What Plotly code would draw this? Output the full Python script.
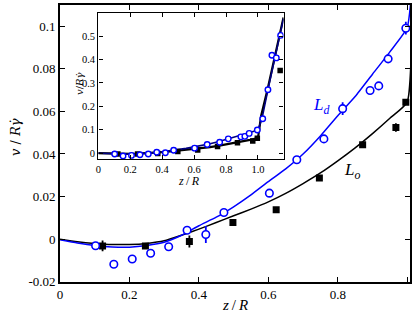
import plotly.graph_objects as go

# ---------------- data ----------------
# L_d (blue circles)
ld_x = [0.1025, 0.155, 0.208, 0.261, 0.313, 0.366, 0.42, 0.472, 0.603, 0.682, 0.76, 0.814, 0.893, 0.918, 0.945, 0.996]
ld_y = [-0.0031, -0.0118, -0.0093, -0.0066, -0.0036, 0.0042, 0.0022, 0.0125, 0.0216, 0.0373, 0.0471, 0.0613, 0.0698, 0.072, 0.0847, 0.0991]
ld_err = [0, 0, 0.0015, 0, 0, 0, 0.004, 0, 0, 0, 0, 0.003, 0, 0, 0, 0.003]
# extra L_d points beyond z/R = 1 (inset only)
ld_x_ext = [1.03, 1.0625, 1.0875, 1.115, 1.142]
ld_y_ext = [0.147, 0.271, 0.418, 0.407, 0.503]

# L_o (black squares)
lo_x = [0.1226, 0.246, 0.3726, 0.498, 0.6226, 0.747, 0.8716, 0.9674, 0.996]
lo_y = [-0.0032, -0.0032, -0.0011, 0.0078, 0.0138, 0.0287, 0.0444, 0.0525, 0.0643]
lo_err = [0.0025, 0, 0.0028, 0, 0, 0, 0, 0.002, 0]
lo_x_ext = [1.139]
lo_y_ext = [0.353]

# model curves
cd_x = [0, 0.05, 0.1, 0.15, 0.2, 0.25, 0.3, 0.35, 0.4, 0.45, 0.5, 0.55, 0.6, 0.65, 0.7, 0.75, 0.8, 0.85, 0.9, 0.95, 1.0, 1.025, 1.0625, 1.16]
cd_y = [-0.0003, -0.0018, -0.003, -0.0037, -0.0038, -0.003, -0.0015, 0.0018, 0.0063, 0.0103, 0.0152, 0.0208, 0.027, 0.033, 0.040, 0.0485, 0.058, 0.067, 0.0775, 0.088, 0.0995, 0.147, 0.271, 0.575]
co_x = [0, 0.05, 0.1, 0.15, 0.2, 0.25, 0.3, 0.35, 0.4, 0.45, 0.5, 0.55, 0.6, 0.65, 0.7, 0.75, 0.8, 0.85, 0.9, 0.95, 1.0, 1.02, 1.0625, 1.16]
co_y = [0, -0.0012, -0.002, -0.0025, -0.0025, -0.002, -0.0008, 0.0018, 0.0047, 0.0078, 0.011, 0.0141, 0.0175, 0.0215, 0.0261, 0.0311, 0.0368, 0.0429, 0.0496, 0.0568, 0.0645, 0.16, 0.28, 0.58]

x_ticks = [0, 0.2, 0.4, 0.6, 0.8, 1.0]
x_ticklabels = ["0", "0.2", "0.4", "0.6", "0.8", "1.0"]
y_ticks = [-0.02, 0, 0.02, 0.04, 0.06, 0.08, 0.1]
y_ticklabels = ["-0.02", "0", "0.02", "0.04", "0.06", "0.08", "0.1"]
yin_ticks = [0, 0.1, 0.2, 0.3, 0.4, 0.5]
yin_ticklabels = ["0", "0.1", "0.2", "0.3", "0.4", "0.5"]

BLUE = "#0000ff"
FONT = "Liberation Serif, Times New Roman, serif"


def with_err(xs, ys, errs):
    ex = [x for x, e in zip(xs, errs) if e > 0]
    ey = [y for y, e in zip(ys, errs) if e > 0]
    ee = [e for e in errs if e > 0]
    return ex, ey, ee


fig = go.Figure()

# ---- main axes ----
fig.add_trace(go.Scatter(x=co_x, y=co_y, mode="lines", line=dict(color="black", width=1.5, shape="spline", smoothing=0.5),
                         xaxis="x", yaxis="y", hoverinfo="skip"))
fig.add_trace(go.Scatter(x=cd_x, y=cd_y, mode="lines", line=dict(color=BLUE, width=1.5, shape="spline", smoothing=0.5),
                         xaxis="x", yaxis="y", hoverinfo="skip"))
ex, ey, ee = with_err(lo_x, lo_y, lo_err)
fig.add_trace(go.Scatter(x=ex, y=ey, mode="markers", marker=dict(size=0.1, color="black", opacity=0),
                         error_y=dict(type="data", array=ee, color="black", thickness=1.8, width=0),
                         xaxis="x", yaxis="y"))
ex, ey, ee = with_err(ld_x, ld_y, ld_err)
fig.add_trace(go.Scatter(x=ex, y=ey, mode="markers", marker=dict(size=0.1, color=BLUE, opacity=0),
                         error_y=dict(type="data", array=ee, color=BLUE, thickness=1.8, width=0),
                         xaxis="x", yaxis="y"))
fig.add_trace(go.Scatter(x=lo_x, y=lo_y, mode="markers",
                         marker=dict(symbol="square", size=7, color="black"),
                         xaxis="x", yaxis="y"))
fig.add_trace(go.Scatter(x=ld_x, y=ld_y, mode="markers",
                         marker=dict(symbol="circle", size=7.5, color="white", line=dict(width=1.6, color=BLUE)),
                         xaxis="x", yaxis="y"))

# ---- inset ----
fig.add_trace(go.Scatter(x=co_x, y=co_y, mode="lines", line=dict(color="black", width=2.2),
                         xaxis="x2", yaxis="y2", hoverinfo="skip"))
fig.add_trace(go.Scatter(x=cd_x, y=cd_y, mode="lines", line=dict(color="#000080", width=1.6),
                         xaxis="x2", yaxis="y2", hoverinfo="skip"))
fig.add_trace(go.Scatter(x=lo_x + lo_x_ext, y=lo_y + lo_y_ext, mode="markers",
                         marker=dict(symbol="square", size=5.5, color="black"),
                         xaxis="x2", yaxis="y2"))
fig.add_trace(go.Scatter(x=ld_x + ld_x_ext, y=ld_y + ld_y_ext, mode="markers",
                         marker=dict(symbol="circle", size=5.5, color="white", line=dict(width=1.4, color=BLUE)),
                         xaxis="x2", yaxis="y2"))

axis_common = dict(showgrid=False, zeroline=False, showline=True, linecolor="black",
                   ticks="inside", mirror="ticks", tickcolor="black", automargin=False)

fig.update_layout(
    width=415, height=314,
    margin=dict(l=0, r=0, t=0, b=0, pad=0),
    paper_bgcolor="white", plot_bgcolor="white",
    showlegend=False,
    font=dict(family=FONT, color="black"),
    xaxis=dict(domain=[60 / 415, 410 / 415], range=[0, 1.008], anchor="y",
               tickvals=x_ticks, ticktext=x_ticklabels, ticklen=5, tickwidth=1.2, linewidth=1.6,
               tickfont=dict(size=13, family=FONT), **axis_common),
    yaxis=dict(domain=[(314 - 281.7) / 314, (314 - 5) / 314], range=[-0.02, 0.11], anchor="x",
               tickvals=y_ticks, ticktext=y_ticklabels, ticklen=5, tickwidth=1.2, linewidth=1.6,
               tickfont=dict(size=13, family=FONT), **axis_common),
    xaxis2=dict(domain=[98.3 / 415, 283.5 / 415], range=[0, 1.16], anchor="y2",
                tickvals=x_ticks, ticktext=x_ticklabels, ticklen=4, tickwidth=1, linewidth=1.4,
                tickfont=dict(size=10.5, family=FONT), **axis_common),
    yaxis2=dict(domain=[(314 - 159.3) / 314, (314 - 12.7) / 314], range=[-0.026, 0.6], anchor="x2",
                tickvals=yin_ticks, ticktext=yin_ticklabels, ticklen=4, tickwidth=1, linewidth=1.4,
                tickfont=dict(size=10.5, family=FONT), **axis_common),
)

fig.add_shape(type="rect", xref="x2 domain", yref="y2 domain", x0=0, x1=1, y0=0, y1=1,
              fillcolor="white", line=dict(width=0), layer="below")

ann = [
    dict(text="<i>z</i>\u2009/\u2009<i>R</i>", x=235 / 415, y=1 - 305 / 314, size=15, angle=0, fam=FONT),
    dict(text="<i>v</i> / <i>R</i><i>\u03b3\u0307</i>", x=15 / 415, y=1 - 137 / 314, size=13, angle=-90, fam="DejaVu Serif"),
    dict(text="<i>z</i>\u2009/\u2009<i>R</i>", x=189 / 415, y=1 - 181 / 314, size=12, angle=0, fam=FONT),
    dict(text="<i>v</i>/<i>R</i><i>\u03b3\u0307</i>", x=80 / 415, y=1 - 84 / 314, size=10, angle=-90, fam="DejaVu Serif"),
]
for a in ann:
    fig.add_annotation(text=a["text"], x=a["x"], y=a["y"], xref="paper", yref="paper",
                       showarrow=False, textangle=a["angle"], xanchor="center", yanchor="middle",
                       font=dict(size=a["size"], color="black", family=a["fam"]))

fig.add_annotation(text="<i>L<sub>d</sub></i>", x=0.753, y=0.0627, xref="x", yref="y", showarrow=False,
                   font=dict(size=17, color=BLUE, family=FONT))
fig.add_annotation(text="<i>L<sub>o</sub></i>", x=0.842, y=0.0318, xref="x", yref="y", showarrow=False,
                   font=dict(size=17, color="black", family=FONT))

fig.write_html("out.html", config={"displayModeBar": False},
               post_script="document.body.style.margin='0';document.body.style.padding='0';")
